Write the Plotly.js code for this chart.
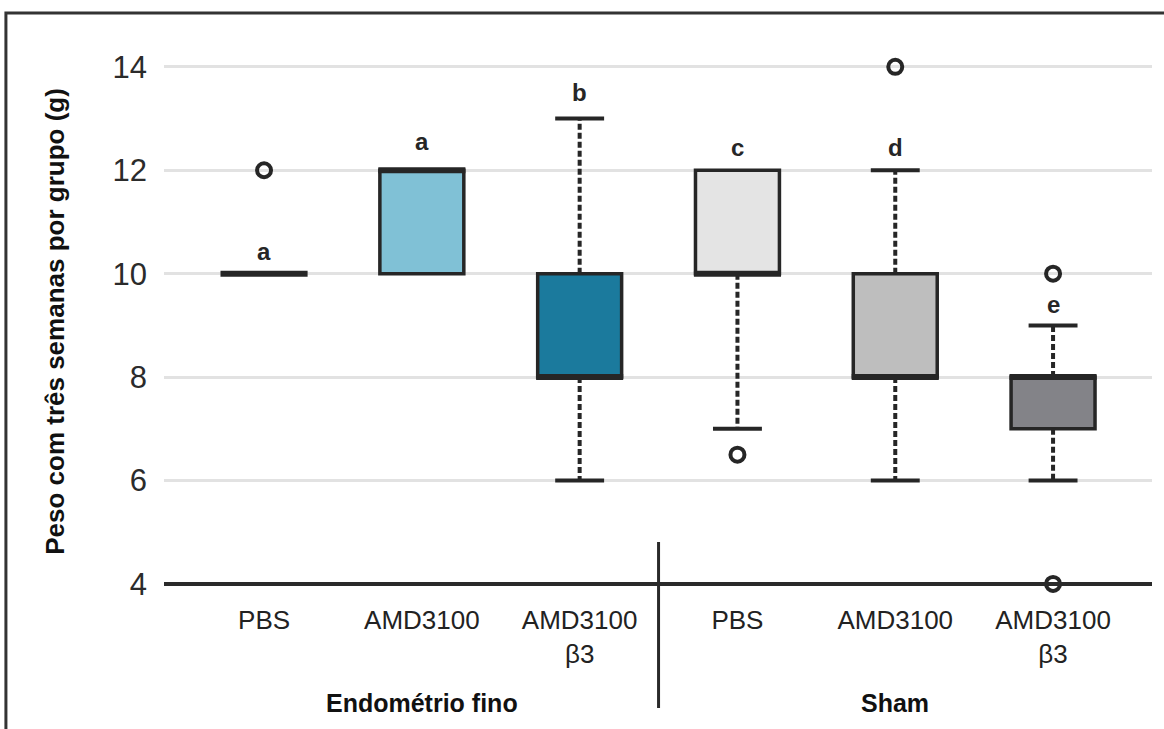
<!DOCTYPE html>
<html>
<head>
<meta charset="utf-8">
<script src="https://cdn.plot.ly/plotly-3.0.1.min.js"></script>
<style>html,body{margin:0;padding:0;background:#fff;}#chart{width:1164px;height:729px;}</style>
</head>
<body>
<div id="chart"></div>
<script>
// ---- data ----
const tickLabels = ['PBS', 'AMD3100', 'AMD3100<br>β3', 'PBS', 'AMD3100', 'AMD3100<br>β3'];
const positions = [0, 1, 2, 3, 4, 5];
const q1Values = [10, 10, 8, 10, 8, 7];
const medianValues = [10, 12, 8, 10, 8, 8];
const q3Values = [10, 12, 10, 12, 10, 8];
const whiskerLow = [null, null, 6, 7, 6, 6];
const whiskerHigh = [null, null, 13, null, 12, 9];
const outlierGroup = [0, 3, 4, 5, 5];
const outlierValue = [12, 6.5, 14, 10, 4];
const letters = ['a', 'a', 'b', 'c', 'd', 'e'];
const letterY = [10.42, 12.55, 13.5, 12.45, 12.45, 9.4];
const groupNames = ['Endométrio fino', 'Sham'];
const groupMembers = [[0, 1, 2], [3, 4, 5]];
const boxColors = ['#ffffff', '#80c1d6', '#1b7a9d', '#e4e4e4', '#bebebe', '#838388'];

// ---- style ----
const ink = '#262626';
const boxW = 0.532;
const capHalf = 0.155;
const font = 'Liberation Sans, Arial, sans-serif';

const traces = [];
positions.forEach((p, i) => {
  traces.push({
    type: 'box', x: [p], q1: [q1Values[i]], median: [medianValues[i]], q3: [q3Values[i]],
    lowerfence: [q1Values[i]], upperfence: [q3Values[i]],
    width: boxW, whiskerwidth: 0, boxpoints: false,
    fillcolor: boxColors[i], line: {color: ink, width: 3.5},
    hoverinfo: 'skip', showlegend: false
  });
});

// whiskers (dashed)
const wx = [], wy = [];
positions.forEach((p, i) => {
  if (whiskerLow[i] !== null) { wx.push(p, p, null); wy.push(q1Values[i], whiskerLow[i], null); }
  if (whiskerHigh[i] !== null) { wx.push(p, p, null); wy.push(q3Values[i], whiskerHigh[i], null); }
});
traces.push({type: 'scatter', mode: 'lines', x: wx, y: wy, line: {color: ink, width: 4, dash: '6px,3px'}, hoverinfo: 'skip', showlegend: false});

// caps
const cx = [], cy = [];
positions.forEach((p, i) => {
  [whiskerLow[i], whiskerHigh[i]].forEach(v => {
    if (v !== null) { cx.push(p - capHalf, p + capHalf, null); cy.push(v, v, null); }
  });
});
traces.push({type: 'scatter', mode: 'lines', x: cx, y: cy, line: {color: ink, width: 4}, hoverinfo: 'skip', showlegend: false});

// thick medians
const mx = [], my = [];
const medHalf = boxW / 2 + 0.01;
positions.forEach((p, i) => { mx.push(p - medHalf, p + medHalf, null); my.push(medianValues[i], medianValues[i], null); });
traces.push({type: 'scatter', mode: 'lines', x: mx, y: my, line: {color: ink, width: 6}, hoverinfo: 'skip', showlegend: false});

// outliers
traces.push({
  type: 'scatter', mode: 'markers',
  x: outlierGroup.map(g => positions[g]), y: outlierValue,
  marker: {symbol: 'circle-open', size: 14, color: ink, line: {width: 4, color: ink}},
  cliponaxis: false, hoverinfo: 'skip', showlegend: false
});

const annotations = [];
positions.forEach((p, i) => {
  annotations.push({x: p, y: letterY[i], xref: 'x', yref: 'y', text: letters[i], showarrow: false,
    font: {family: font, size: 24, color: ink, weight: 'bold'}, yanchor: 'middle'});
});
groupMembers.forEach((m, gi) => {
  const c = m.reduce((s, k) => s + positions[k], 0) / m.length;
  annotations.push({x: c, y: -0.18, xref: 'x', yref: 'paper', text: '<b>' + groupNames[gi] + '</b>', showarrow: false,
    font: {family: font, size: 25, color: '#111'}, yanchor: 'middle'});
});

const shapes = [
  // baseline at y=4
  {type: 'line', xref: 'paper', yref: 'y', x0: 0, x1: 1, y0: 4, y1: 4, line: {color: '#2a2a2a', width: 4}, layer: 'above'},
  // divider between groups
  {type: 'line', xref: 'x', yref: 'paper', x0: 2.5, x1: 2.5, y0: -0.189, y1: 0.107, line: {color: '#2a2a2a', width: 3}, layer: 'above'},
  // frame (top + left)
  {type: 'path', xref: 'paper', yref: 'paper', path: 'M -0.16,-0.25 L -0.16,1.05 L 1.02,1.05', line: {color: '#333', width: 3}, layer: 'above'}
];

const layout = {
  width: 1164, height: 729,
  margin: {l: 164, r: 12, t: 41, b: 127},
  paper_bgcolor: '#fff', plot_bgcolor: '#fff',
  boxmode: 'overlay',
  font: {family: font, color: '#222'},
  xaxis: {
    range: [-0.634, 5.627], tickvals: positions, ticktext: tickLabels,
    showgrid: false, zeroline: false, showline: false, ticks: '',
    tickfont: {family: font, size: 26, color: '#222'}, fixedrange: true
  },
  yaxis: {
    range: [3.65, 14.5], tick0: 4, dtick: 2, tickmode: 'linear',
    showgrid: true, gridcolor: '#e2e2e2', gridwidth: 3,
    zeroline: false, showline: false, ticks: '', ticklabelstandoff: 16,
    tickfont: {family: font, size: 31, color: '#2b2b2b'},
    title: {text: '<b>Peso com três semanas por grupo (g)</b>', font: {family: font, size: 26, color: '#111'}, standoff: 40},
    fixedrange: true
  },
  shapes: shapes,
  annotations: annotations
};

Plotly.newPlot('chart', traces, layout, {displayModeBar: false, staticPlot: true});
</script>
</body>
</html>
